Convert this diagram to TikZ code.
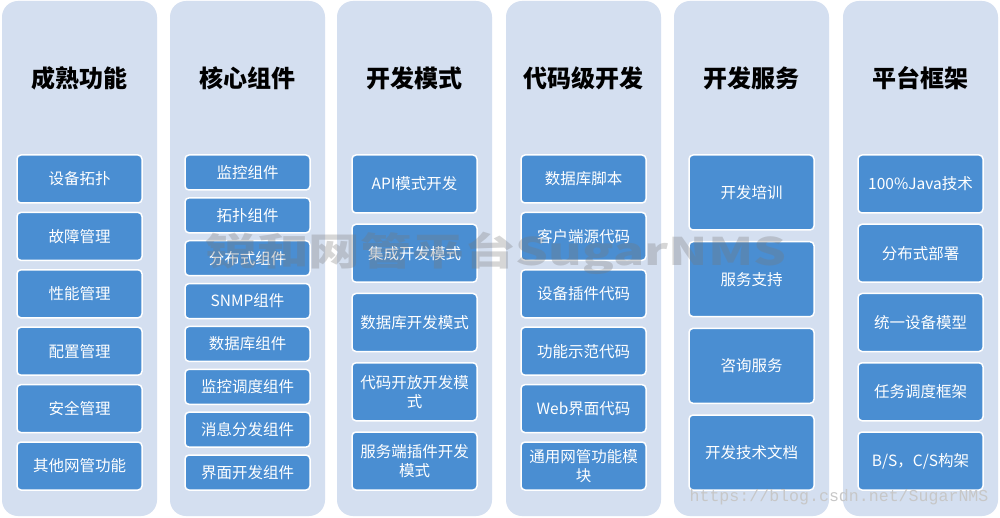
\documentclass[tikz,border=0pt]{standalone}
\usepackage{fontspec}
\setmainfont{Noto Sans CJK SC}
\newfontfamily\urlfont{Liberation Mono}
\usepackage{tikz}
\usetikzlibrary{positioning}

\definecolor{colbg}{RGB}{212,223,240}
\definecolor{boxbg}{RGB}{74,142,210}
\definecolor{wmgray}{RGB}{120,120,120}

\tikzset{
  column/.style={fill=colbg, rounded corners=16pt, minimum width=155pt, minimum height=515pt, inner sep=0pt},
  title/.style={font=\fontsize{24}{28}\selectfont\bfseries},
  item/.style={fill=boxbg, draw=white, line width=1.5pt, rounded corners=4pt, text=white,
    minimum width=125pt, inner sep=0pt, outer sep=0pt, align=center,
    font=\fontsize{15.5}{19}\selectfont},
  itemA/.style={item, minimum height=48pt},
  itemB/.style={item, minimum height=35pt},
  itemC/.style={item, minimum height=58pt},
  itemD/.style={item, minimum height=75pt},
}

\begin{document}
\begin{tikzpicture}[x=1pt, y=1pt]
                \useasboundingbox[fill=white] (0,0) rectangle (1000,517);
                % columns
                \node[column] (c1) at (79.5,258.5) {};
                \node[column] (c2) at (247.5,258.5) {};
                \node[column] (c3) at (414.5,258.5) {};
                \node[column] (c4) at (583.5,258.5) {};
                \node[column] (c5) at (751.5,258.5) {};
                \node[column] (c6) at (920.5,258.5) {};
                % titles
                \node[title] (t1) at (79.5,439) {成熟功能};
                \node[title] (t2) at (247.5,439) {核心组件};
                \node[title] (t3) at (414.5,439) {开发模式};
                \node[title] (t4) at (583.5,439) {代码级开发};
                \node[title] (t5) at (751.5,439) {开发服务};
                \node[title] (t6) at (920.5,439) {平台框架};
                % 成熟功能
                \node[itemA, anchor=north] (a1) at (79.5,362) {设备拓扑};
                \node[itemA, below=9.4pt of a1] (a2) {故障管理};
                \node[itemA, below=9.4pt of a2] (a3) {性能管理};
                \node[itemA, below=9.4pt of a3] (a4) {配置管理};
                \node[itemA, below=9.4pt of a4] (a5) {安全管理};
                \node[itemA, below=9.4pt of a5] (a6) {其他网管功能};
                % 核心组件
                \node[itemB, anchor=north] (b1) at (247.5,362) {监控组件};
                \node[itemB, below=7.86pt of b1] (b2) {拓扑组件};
                \node[itemB, below=7.86pt of b2] (b3) {分布式组件};
                \node[itemB, below=7.86pt of b3] (b4) {SNMP组件};
                \node[itemB, below=7.86pt of b4] (b5) {数据库组件};
                \node[itemB, below=7.86pt of b5] (b6) {监控调度组件};
                \node[itemB, below=7.86pt of b6] (b7) {消息分发组件};
                \node[itemB, below=7.86pt of b7] (b8) {界面开发组件};
                % 开发模式
                \node[itemC, anchor=north] (m1) at (414.5,362) {API模式开发};
                \node[itemC, below=11.25pt of m1] (m2) {集成开发模式};
                \node[itemC, below=11.25pt of m2] (m3) {数据库开发模式};
                \node[itemC, below=11.25pt of m3] (m4) {代码开放开发模\\式};
                \node[itemC, below=11.25pt of m4] (m5) {服务端插件开发\\模式};
                % 代码级开发
                \node[itemA, anchor=north] (d1) at (583.5,362) {数据库脚本};
                \node[itemA, below=9.4pt of d1] (d2) {客户端源代码};
                \node[itemA, below=9.4pt of d2] (d3) {设备插件代码};
                \node[itemA, below=9.4pt of d3] (d4) {功能示范代码};
                \node[itemA, below=9.4pt of d4] (d5) {Web界面代码};
                \node[itemA, below=9.4pt of d5] (d6) {通用网管功能模\\块};
                % 开发服务
                \node[itemD, anchor=north] (s1) at (751.5,362) {开发培训};
                \node[itemD, below=11.67pt of s1] (s2) {服务支持};
                \node[itemD, below=11.67pt of s2] (s3) {咨询服务};
                \node[itemD, below=11.67pt of s3] (s4) {开发技术文档};
                % 平台框架
                \node[itemC, anchor=north] (p1) at (920.5,362) {100\%Java技术};
                \node[itemC, below=11.25pt of p1] (p2) {分布式部署};
                \node[itemC, below=11.25pt of p2] (p3) {统一设备模型};
                \node[itemC, below=11.25pt of p3] (p4) {任务调度框架};
                \node[itemC, below=11.25pt of p4] (p5) {B/S，C/S构架};
                % watermark and link
                \node[text=wmgray, opacity=0.3, xscale=1.36, transform shape,
                  font=\fontsize{38}{40}\selectfont\bfseries] (wm) at (496,264) {锐和网管平台SugarNMS};
                \node[text=black!22, font=\urlfont\fontsize{16.6}{18}\selectfont] (url) at (839,20) {https://blog.csdn.net/SugarNMS};
            \end{tikzpicture}
\end{document}
